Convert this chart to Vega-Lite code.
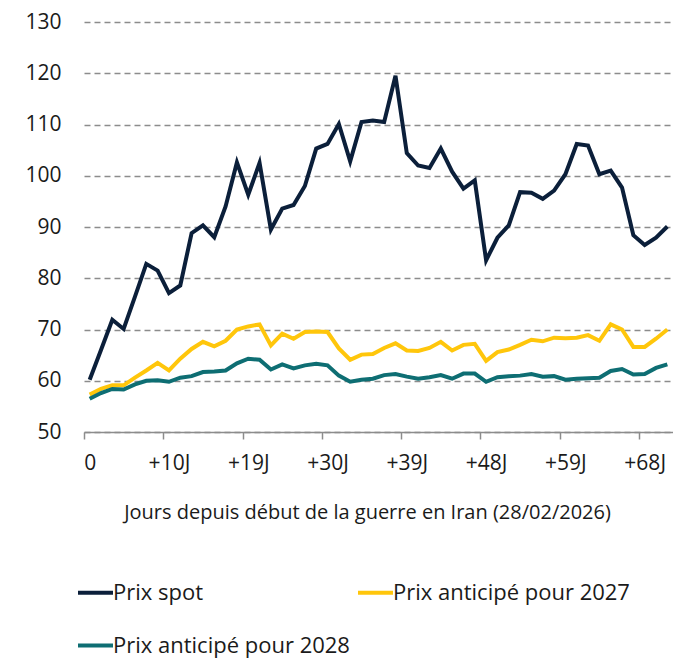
{
  "$schema": "https://vega.github.io/schema/vega-lite/v6.json",
  "autosize": "none",
  "padding": {"left": 84, "top": 22, "right": 0, "bottom": 228},
  "width": 589,
  "height": 410,
  "background": "white",
  "config": {
    "view": {"stroke": null},
    "font": "Open Sans"
  },
  "data": {
    "values": [
      {"i":0,"Prix spot":60.2,"Prix anticipé pour 2027":57.3,"Prix anticipé pour 2028":56.5},
      {"i":1,"Prix spot":66.0,"Prix anticipé pour 2027":58.4,"Prix anticipé pour 2028":57.6},
      {"i":2,"Prix spot":71.9,"Prix anticipé pour 2027":59.1,"Prix anticipé pour 2028":58.4},
      {"i":3,"Prix spot":70.1,"Prix anticipé pour 2027":59.1,"Prix anticipé pour 2028":58.3},
      {"i":4,"Prix spot":76.4,"Prix anticipé pour 2027":60.6,"Prix anticipé pour 2028":59.3},
      {"i":5,"Prix spot":82.8,"Prix anticipé pour 2027":62.0,"Prix anticipé pour 2028":60.0},
      {"i":6,"Prix spot":81.5,"Prix anticipé pour 2027":63.5,"Prix anticipé pour 2028":60.1},
      {"i":7,"Prix spot":77.1,"Prix anticipé pour 2027":62.0,"Prix anticipé pour 2028":59.8},
      {"i":8,"Prix spot":78.6,"Prix anticipé pour 2027":64.3,"Prix anticipé pour 2028":60.6},
      {"i":9,"Prix spot":88.8,"Prix anticipé pour 2027":66.2,"Prix anticipé pour 2028":60.9},
      {"i":10,"Prix spot":90.3,"Prix anticipé pour 2027":67.6,"Prix anticipé pour 2028":61.7},
      {"i":11,"Prix spot":88.0,"Prix anticipé pour 2027":66.7,"Prix anticipé pour 2028":61.8},
      {"i":12,"Prix spot":94.0,"Prix anticipé pour 2027":67.8,"Prix anticipé pour 2028":62.0},
      {"i":13,"Prix spot":102.6,"Prix anticipé pour 2027":70.0,"Prix anticipé pour 2028":63.4},
      {"i":14,"Prix spot":96.3,"Prix anticipé pour 2027":70.6,"Prix anticipé pour 2028":64.3},
      {"i":15,"Prix spot":102.5,"Prix anticipé pour 2027":71.0,"Prix anticipé pour 2028":64.1},
      {"i":16,"Prix spot":89.5,"Prix anticipé pour 2027":66.9,"Prix anticipé pour 2028":62.2},
      {"i":17,"Prix spot":93.6,"Prix anticipé pour 2027":69.2,"Prix anticipé pour 2028":63.2},
      {"i":18,"Prix spot":94.3,"Prix anticipé pour 2027":68.2,"Prix anticipé pour 2028":62.4},
      {"i":19,"Prix spot":98.0,"Prix anticipé pour 2027":69.5,"Prix anticipé pour 2028":63.0},
      {"i":20,"Prix spot":105.3,"Prix anticipé pour 2027":69.6,"Prix anticipé pour 2028":63.3},
      {"i":21,"Prix spot":106.2,"Prix anticipé pour 2027":69.5,"Prix anticipé pour 2028":63.0},
      {"i":22,"Prix spot":110.1,"Prix anticipé pour 2027":66.3,"Prix anticipé pour 2028":61.0},
      {"i":23,"Prix spot":102.8,"Prix anticipé pour 2027":64.1,"Prix anticipé pour 2028":59.8},
      {"i":24,"Prix spot":110.5,"Prix anticipé pour 2027":65.1,"Prix anticipé pour 2028":60.2},
      {"i":25,"Prix spot":110.8,"Prix anticipé pour 2027":65.2,"Prix anticipé pour 2028":60.4},
      {"i":26,"Prix spot":110.5,"Prix anticipé pour 2027":66.4,"Prix anticipé pour 2028":61.1},
      {"i":27,"Prix spot":119.5,"Prix anticipé pour 2027":67.3,"Prix anticipé pour 2028":61.3},
      {"i":28,"Prix spot":104.4,"Prix anticipé pour 2027":65.9,"Prix anticipé pour 2028":60.8},
      {"i":29,"Prix spot":102.0,"Prix anticipé pour 2027":65.8,"Prix anticipé pour 2028":60.4},
      {"i":30,"Prix spot":101.5,"Prix anticipé pour 2027":66.4,"Prix anticipé pour 2028":60.7},
      {"i":31,"Prix spot":105.3,"Prix anticipé pour 2027":67.6,"Prix anticipé pour 2028":61.1},
      {"i":32,"Prix spot":100.8,"Prix anticipé pour 2027":65.9,"Prix anticipé pour 2028":60.4},
      {"i":33,"Prix spot":97.5,"Prix anticipé pour 2027":67.0,"Prix anticipé pour 2028":61.4},
      {"i":34,"Prix spot":99.1,"Prix anticipé pour 2027":67.2,"Prix anticipé pour 2028":61.4},
      {"i":35,"Prix spot":83.5,"Prix anticipé pour 2027":63.9,"Prix anticipé pour 2028":59.8},
      {"i":36,"Prix spot":87.9,"Prix anticipé pour 2027":65.6,"Prix anticipé pour 2028":60.7},
      {"i":37,"Prix spot":90.3,"Prix anticipé pour 2027":66.1,"Prix anticipé pour 2028":60.9},
      {"i":38,"Prix spot":96.8,"Prix anticipé pour 2027":67.0,"Prix anticipé pour 2028":61.0},
      {"i":39,"Prix spot":96.7,"Prix anticipé pour 2027":68.0,"Prix anticipé pour 2028":61.3},
      {"i":40,"Prix spot":95.5,"Prix anticipé pour 2027":67.7,"Prix anticipé pour 2028":60.8},
      {"i":41,"Prix spot":97.1,"Prix anticipé pour 2027":68.4,"Prix anticipé pour 2028":60.9},
      {"i":42,"Prix spot":100.3,"Prix anticipé pour 2027":68.3,"Prix anticipé pour 2028":60.2},
      {"i":43,"Prix spot":106.2,"Prix anticipé pour 2027":68.4,"Prix anticipé pour 2028":60.4},
      {"i":44,"Prix spot":105.9,"Prix anticipé pour 2027":68.9,"Prix anticipé pour 2028":60.5},
      {"i":45,"Prix spot":100.3,"Prix anticipé pour 2027":67.8,"Prix anticipé pour 2028":60.6},
      {"i":46,"Prix spot":101.0,"Prix anticipé pour 2027":71.0,"Prix anticipé pour 2028":61.9},
      {"i":47,"Prix spot":97.7,"Prix anticipé pour 2027":70.0,"Prix anticipé pour 2028":62.3},
      {"i":48,"Prix spot":88.4,"Prix anticipé pour 2027":66.6,"Prix anticipé pour 2028":61.2},
      {"i":49,"Prix spot":86.5,"Prix anticipé pour 2027":66.6,"Prix anticipé pour 2028":61.3},
      {"i":50,"Prix spot":87.9,"Prix anticipé pour 2027":68.2,"Prix anticipé pour 2028":62.5},
      {"i":51,"Prix spot":90.1,"Prix anticipé pour 2027":70.0,"Prix anticipé pour 2028":63.2}
    ]
  },
  "transform": [
    {"fold": ["Prix spot", "Prix anticipé pour 2027", "Prix anticipé pour 2028"], "as": ["serie", "prix"]}
  ],
  "mark": {"type": "line", "strokeWidth": 4, "strokeJoin": "miter"},
  "encoding": {
    "x": {
      "field": "i",
      "type": "quantitative",
      "scale": {"domain": [-0.5, 51.5], "nice": false, "zero": false},
      "axis": {
        "title": "Jours depuis début de la guerre en Iran (28/02/2026)",
        "values": [0, 7, 14, 21, 28, 35, 42, 49],
        "labelExpr": "['0','+10J','+19J','+30J','+39J','+48J','+59J','+68J'][round(datum.value/7)]",
        "grid": false,
        "tickOffset": -5.66,
        "labelOffset": 5.66,
        "tickSize": 7,
        "tickColor": "#8c8c8c",
        "tickWidth": 1.5,
        "domainColor": "#8c8c8c",
        "domainWidth": 1.5,
        "labelFont": "Open Sans",
        "labelFontSize": 21,
        "labelColor": "#1a1a1a",
        "labelPadding": 13,
        "labelFlush": false,
        "labelOverlap": false,
        "titleFont": "Open Sans",
        "titleFontSize": 20,
        "titleFontWeight": "normal",
        "titleColor": "#1a1a1a",
        "titleX": 283,
        "titleY": 80,
        "titleBaseline": "middle",
        "titleAlign": "center"
      }
    },
    "y": {
      "field": "prix",
      "type": "quantitative",
      "scale": {"domain": [50, 130], "nice": false, "zero": false},
      "axis": {
        "title": null,
        "values": [50, 60, 70, 80, 90, 100, 110, 120, 130],
        "domain": false,
        "ticks": false,
        "grid": true,
        "gridColor": "#8c8c8c",
        "gridDash": [6, 4],
        "gridWidth": 1.3,
        "labelFont": "Open Sans",
        "labelFontSize": 21,
        "labelColor": "#1a1a1a",
        "labelPadding": 23
      }
    },
    "color": {
      "field": "serie",
      "type": "nominal",
      "sort": ["Prix spot", "Prix anticipé pour 2027", "Prix anticipé pour 2028"],
      "scale": {
        "domain": ["Prix spot", "Prix anticipé pour 2027", "Prix anticipé pour 2028"],
        "range": ["#0b1f3a", "#ffc60b", "#0e6e73"]
      },
      "legend": {
        "title": null,
        "orient": "none",
        "legendX": -8,
        "legendY": 551,
        "direction": "horizontal",
        "columns": 2,
        "columnPadding": 0,
        "rowPadding": 22,
        "symbolType": "stroke",
        "symbolSize": 1225,
        "symbolStrokeWidth": 4,
        "labelOffset": -2,
        "labelFont": "Open Sans",
        "labelFontSize": 22,
        "labelColor": "#1a1a1a",
        "labelLimit": 400
      }
    }
  }
}
